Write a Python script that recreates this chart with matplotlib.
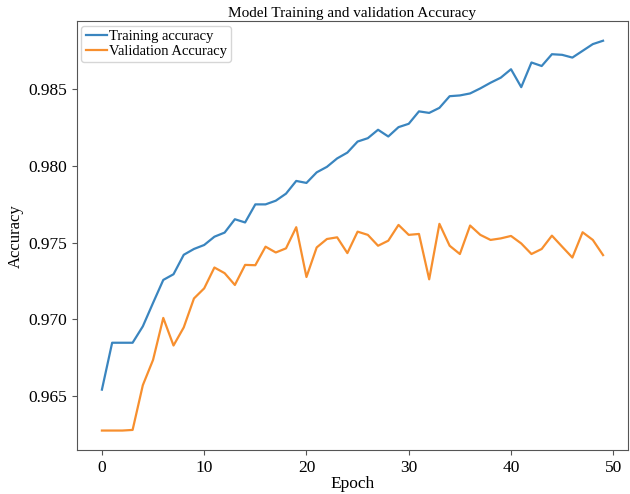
import matplotlib
matplotlib.use("Agg")
import matplotlib.pyplot as plt

epochs = list(range(50))
train_acc = [0.96541, 0.96847, 0.96847, 0.96847, 0.96954, 0.97107, 0.97257, 0.97294, 0.97421, 0.97459,
             0.97485, 0.97539, 0.97566, 0.97653, 0.97632, 0.97750, 0.97750, 0.97774, 0.97820, 0.97903,
             0.97890, 0.97959, 0.97995, 0.98050, 0.98088, 0.98160, 0.98182, 0.98237, 0.98193, 0.98254,
             0.98276, 0.98357, 0.98347, 0.98380, 0.98456, 0.98461, 0.98474, 0.98507, 0.98544, 0.98577,
             0.98632, 0.98515, 0.98676, 0.98653, 0.98730, 0.98726, 0.98708, 0.98752, 0.98796, 0.98818]
val_acc = [0.96274, 0.96274, 0.96274, 0.96278, 0.96570, 0.96735, 0.97009, 0.96829, 0.96947, 0.97136,
           0.97202, 0.97338, 0.97301, 0.97224, 0.97355, 0.97353, 0.97474, 0.97436, 0.97463, 0.97601,
           0.97276, 0.97469, 0.97524, 0.97535, 0.97432, 0.97572, 0.97551, 0.97480, 0.97513, 0.97616,
           0.97551, 0.97557, 0.97261, 0.97623, 0.97480, 0.97426, 0.97612, 0.97551, 0.97518, 0.97528,
           0.97544, 0.97495, 0.97426, 0.97459, 0.97546, 0.97474, 0.97403, 0.97568, 0.97518, 0.97419]

plt.rcParams['font.family'] = ['Liberation Serif', 'DejaVu Serif']

fig = plt.figure(figsize=(6.3, 4.94), dpi=100)
ax = fig.add_axes([0.122, 0.089, 0.875, 0.868])
ax.plot(epochs, train_acc, color='#3a85bf', lw=1.6, label='Training accuracy')
ax.plot(epochs, val_acc, color='#f78f2e', lw=1.6, label='Validation Accuracy')
ax.set_title('Model Training and validation Accuracy', fontsize=11, pad=3)
ax.set_xlabel('Epoch', fontsize=12.5, labelpad=0)
ax.set_ylabel('Accuracy', fontsize=12, labelpad=3)
ax.tick_params(labelsize=12.5, color='#555555')
ax.set_xticks([0, 10, 20, 30, 40, 50])
ax.set_yticks([0.965, 0.970, 0.975, 0.980, 0.985])
for s in ax.spines.values():
    s.set_color('#555555')
ax.legend(loc='upper left', fontsize=10.5, handlelength=1.5, handletextpad=0.1,
          borderaxespad=0.3, borderpad=0.3, labelspacing=0.1)
fig.savefig('out.png', dpi=100)
